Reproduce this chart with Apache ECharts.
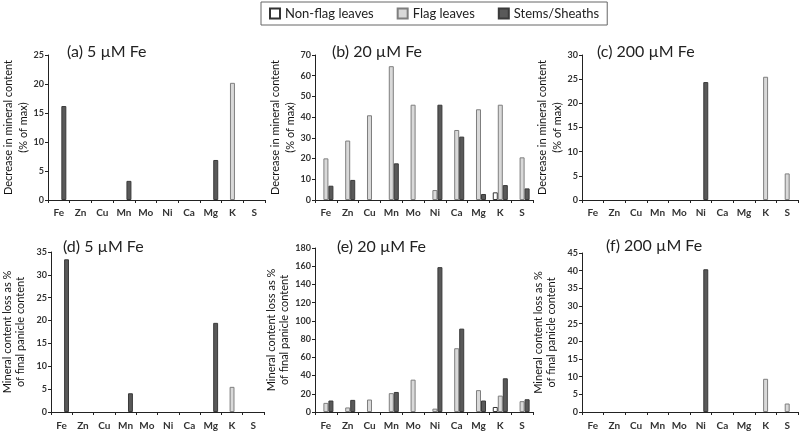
<!DOCTYPE html>
<html>
<head>
<meta charset="utf-8">
<title>Mineral content decrease</title>
<script src="https://cdn.jsdelivr.net/npm/echarts@6/dist/echarts.min.js"></script>
<style>
  html, body { margin: 0; padding: 0; background: #fff; }
  #chart { width: 800px; height: 432px; }
</style>
</head>
<body>
<div id="chart"></div>
<script>
const elements = ["Fe", "Zn", "Cu", "Mn", "Mo", "Ni", "Ca", "Mg", "K", "S"]
const seriesNames = ["Non-flag leaves", "Flag leaves", "Stems/Sheaths"]

// (a) 5 µM Fe - decrease in mineral content (% of max)
const nonFlagA = [0, 0, 0, 0, 0, 0, 0, 0, 0, 0]
const flagA = [0, 0, 0, 0, 0, 0, 0, 0, 20.2, 0]
const stemsA = [16.2, 0, 0, 3.3, 0, 0, 0, 6.9, 0, 0]
// (b) 20 µM Fe
const nonFlagB = [0, 0, 0, 0, 0, 0, 0, 0, 3.7, 0]
const flagB = [20.1, 28.7, 40.9, 64.6, 46, 4.8, 33.8, 43.8, 46, 20.6]
const stemsB = [6.9, 9.7, 0, 17.7, 0, 46, 30.6, 2.9, 7.2, 5.6]
// (c) 200 µM Fe
const nonFlagC = [0, 0, 0, 0, 0, 0, 0, 0, 0, 0]
const flagC = [0, 0, 0, 0, 0, 0, 0, 0, 25.5, 5.5]
const stemsC = [0, 0, 0, 0, 0, 24.4, 0, 0, 0, 0]
// (d) 5 µM Fe - loss as % of final panicle content
const nonFlagD = [0, 0, 0, 0, 0, 0, 0, 0, 0, 0]
const flagD = [0, 0, 0, 0, 0, 0, 0, 0, 5.5, 0]
const stemsD = [33.4, 0, 0, 4.1, 0, 0, 0, 19.5, 0, 0]
// (e) 20 µM Fe
const nonFlagE = [0, 0, 0, 0, 0, 0, 0, 0, 5.5, 0]
const flagE = [10, 5, 13.7, 20.7, 35.5, 3.7, 70, 24, 18, 11.9]
const stemsE = [12.6, 13.3, 0, 22, 0, 159, 91.5, 12.6, 37, 14]
// (f) 200 µM Fe
const nonFlagF = [0, 0, 0, 0, 0, 0, 0, 0, 0, 0]
const flagF = [0, 0, 0, 0, 0, 0, 0, 0, 9.4, 2.4]
const stemsF = [0, 0, 0, 0, 0, 40.4, 0, 0, 0, 0]

const panelTitles = ["(a) 5 µM Fe", "(b) 20 µM Fe", "(c) 200 µM Fe", "(d) 5 µM Fe", "(e) 20 µM Fe", "(f) 200 µM Fe"]
const yMax = [25, 70, 30, 35, 180, 45]
const yStep = [5, 10, 5, 5, 20, 5]
const panelData = [
  [nonFlagA, flagA, stemsA],
  [nonFlagB, flagB, stemsB],
  [nonFlagC, flagC, stemsC],
  [nonFlagD, flagD, stemsD],
  [nonFlagE, flagE, stemsE],
  [nonFlagF, flagF, stemsF],
]

const font = "Lato, 'Liberation Sans', sans-serif"
const fills = ["#ffffff", "#d9d9d9", "#595959"]
const borders = ["#333333", "#7f7f7f", "#3a3a3a"]

const grids = [
  { left: 48, top: 55, width: 217, height: 145 },
  { left: 315, top: 55, width: 218, height: 145 },
  { left: 582, top: 55, width: 216, height: 145 },
  { left: 47, top: 252, width: 217, height: 160 },
  { left: 315, top: 248, width: 218, height: 164 },
  { left: 582, top: 253, width: 216, height: 159 },
]
const titlePos = [
  { left: 62, top: 39 }, { left: 327, top: 39 }, { left: 592, top: 39 },
  { left: 58, top: 234 }, { left: 332, top: 234 }, { left: 601, top: 233 },
]

const xAxes = []
const yAxes = []
const series = []
const titles = []

for (let i = 0; i < 6; i++) {
  const top = i < 3
  titles.push({
    text: panelTitles[i],
    left: titlePos[i].left,
    top: titlePos[i].top,
    textStyle: { fontFamily: font, fontSize: 16, fontWeight: "normal", color: "#222" },
  })
  xAxes.push({
    type: "category",
    gridIndex: i,
    data: elements,
    z: 5,
    axisLine: { lineStyle: { color: "#222", width: 1 } },
    axisTick: { show: true, length: 3, lineStyle: { color: "#222" } },
    axisLabel: { interval: 0, margin: top ? 8 : 9, fontFamily: font, fontSize: 10, fontWeight: "bold", color: "#333" },
  })
  yAxes.push({
    type: "value",
    gridIndex: i,
    min: 0,
    max: yMax[i],
    interval: yStep[i],
    z: 5,
    name: top ? "Decrease in mineral content\n(% of max)" : "Mineral content loss as %\nof final panicle content",
    nameLocation: "middle",
    nameRotate: 90,
    nameGap: top ? 17 : 24,
    nameMoveOverlap: false,
    nameTextStyle: { fontFamily: font, fontSize: 11, color: "#111", lineHeight: top ? 15 : 13 },
    splitLine: { show: false },
    axisLine: { show: true, lineStyle: { color: "#222", width: 1 } },
    axisTick: { show: true, length: 3, lineStyle: { color: "#222" } },
    axisLabel: { margin: 4, fontFamily: font, fontSize: 9, fontWeight: "bold", color: "#333" },
  })
  for (let s = 0; s < 3; s++) {
    series.push({
      name: seriesNames[s],
      type: "bar",
      xAxisIndex: i,
      yAxisIndex: i,
      // zero values are left empty so no outline is drawn on the axis
      data: panelData[i][s].map((v) => (v === 0 ? "-" : v)),
      barGap: "0%",
      barCategoryGap: "31%",
      itemStyle: { color: fills[s], borderColor: borders[s], borderWidth: 1 },
      emphasis: { disabled: true },
    })
  }
}

const chart = echarts.init(document.getElementById("chart"))
chart.setOption({
  animation: false,
  title: titles,
  legend: {
    data: seriesNames.map((n) => ({ name: n, icon: "rect" })),
    left: 261,
    top: 2,
    padding: [5, 8],
    itemGap: 23,
    itemWidth: 10,
    itemHeight: 10,
    borderColor: "#666",
    borderWidth: 1,
    textStyle: { fontFamily: font, fontSize: 13, color: "#222" },
  },
  grid: grids,
  xAxis: xAxes,
  yAxis: yAxes,
  series: series,
})
</script>
</body>
</html>
